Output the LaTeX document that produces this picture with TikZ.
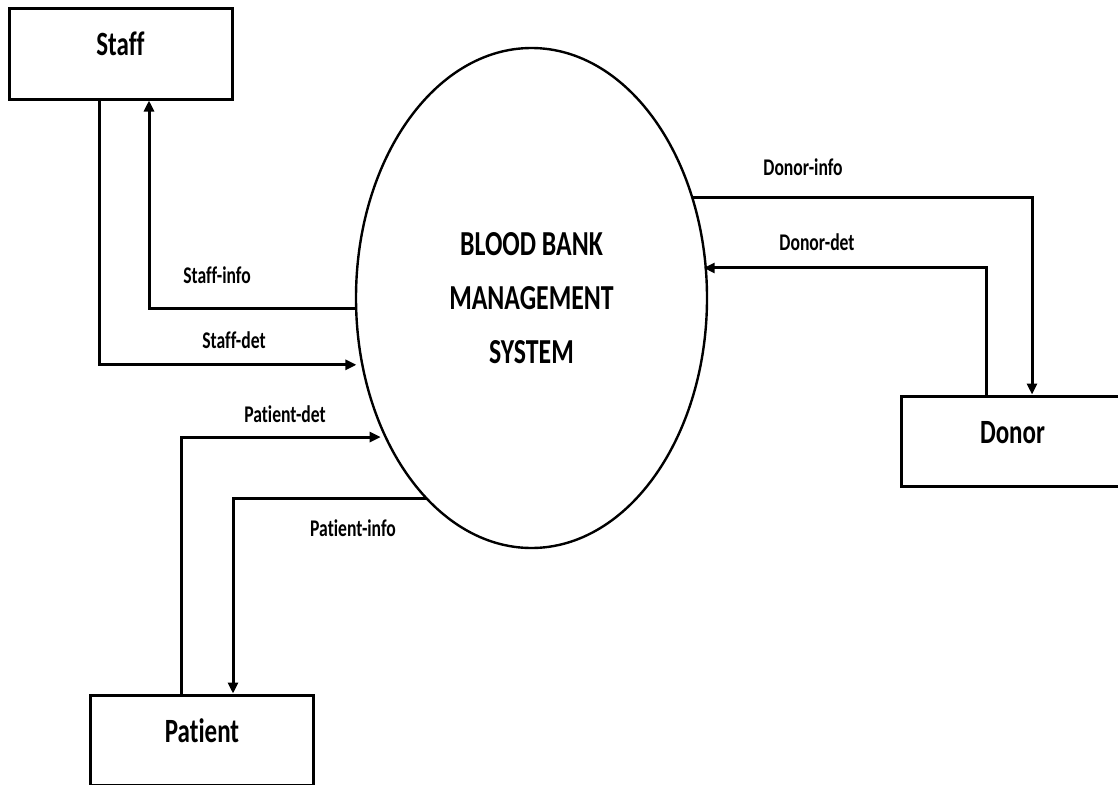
\documentclass[tikz,border=0pt]{standalone}
\usepackage{fontspec}
\setmainfont{Carlito}[Ligatures=NoCommon]
\usepackage{graphicx}
\usetikzlibrary{shapes.geometric,arrows.meta,calc}
\newcommand{\tallt}[1]{\scalebox{1}[1.36]{#1}}
\begin{document}
\begin{tikzpicture}[x=1pt,y=-1pt,
  ent/.style={draw, line width=3pt, minimum width=223pt, minimum height=90pt,
    inner sep=0pt, text height=20pt, text depth=16pt,
    font=\fontsize{25}{30}\selectfont\bfseries},
  proc/.style={draw, ellipse, line width=2.4pt, minimum width=351pt, minimum height=500pt,
    inner sep=0pt, align=center, font=\fontsize{25.8}{54}\selectfont\bfseries},
  flow/.style={line width=3pt, line join=miter, -{Triangle[length=11pt,width=10pt]}},
  lab/.style={anchor=base, inner sep=0pt, font=\fontsize{17.6}{20}\selectfont\bfseries}]
\useasboundingbox[fill=white] (0,0) rectangle (1118,784);

\node[ent] (staff) at (120.5,54) {\tallt{Staff}};
\node[ent] (patient) at (202,740) {\tallt{Patient}};
\node[ent] (donor) at (1012.5,441) {\tallt{Donor}};
\node[proc] (sys) at (531.5,298) {\tallt{BLOOD BANK}\\\tallt{MANAGEMENT}\\\tallt{SYSTEM}};

\coordinate (esi) at ($(sys.center)+(177.7:175.5 and 250)$);
\coordinate (esd) at ($(sys.center)+(164.5:175.5 and 250)$);
\coordinate (epd) at ($(sys.center)+(146.2:175.5 and 250)$);
\coordinate (epi) at ($(sys.center)+(126.5:175.5 and 250)$);
\coordinate (edi) at ($(sys.center)+(-23.6:175.5 and 250)$);
\coordinate (edd) at ($(sys.center)+(-6.9:175.5 and 250)$);

\draw[flow] (esi) -| ([xshift=28.5pt]staff.south);
\draw[flow, shorten >=6pt] ([xshift=-21.5pt]staff.south) |- (esd);
\draw[flow, shorten >=5pt] ([xshift=-21pt]patient.north) |- (epd);
\draw[flow] (epi) -| ([xshift=31pt]patient.north);
\draw[flow] (edi) -| ([xshift=19.5pt]donor.north);
\draw[flow, shorten >=-2pt] ([xshift=-26.5pt]donor.north) |- (edd);

\node[lab] (lsi) at (217,283) {\tallt{Staff-info}};
\node[lab] (lsd) at (234,348) {\tallt{Staff-det}};
\node[lab] (lpd) at (285,422) {\tallt{Patient-det}};
\node[lab] (lpi) at (353,536) {\tallt{Patient-info}};
\node[lab] (ldi) at (803,175) {\tallt{Donor-info}};
\node[lab] (ldd) at (817,250) {\tallt{Donor-det}};
\end{tikzpicture}
\end{document}
